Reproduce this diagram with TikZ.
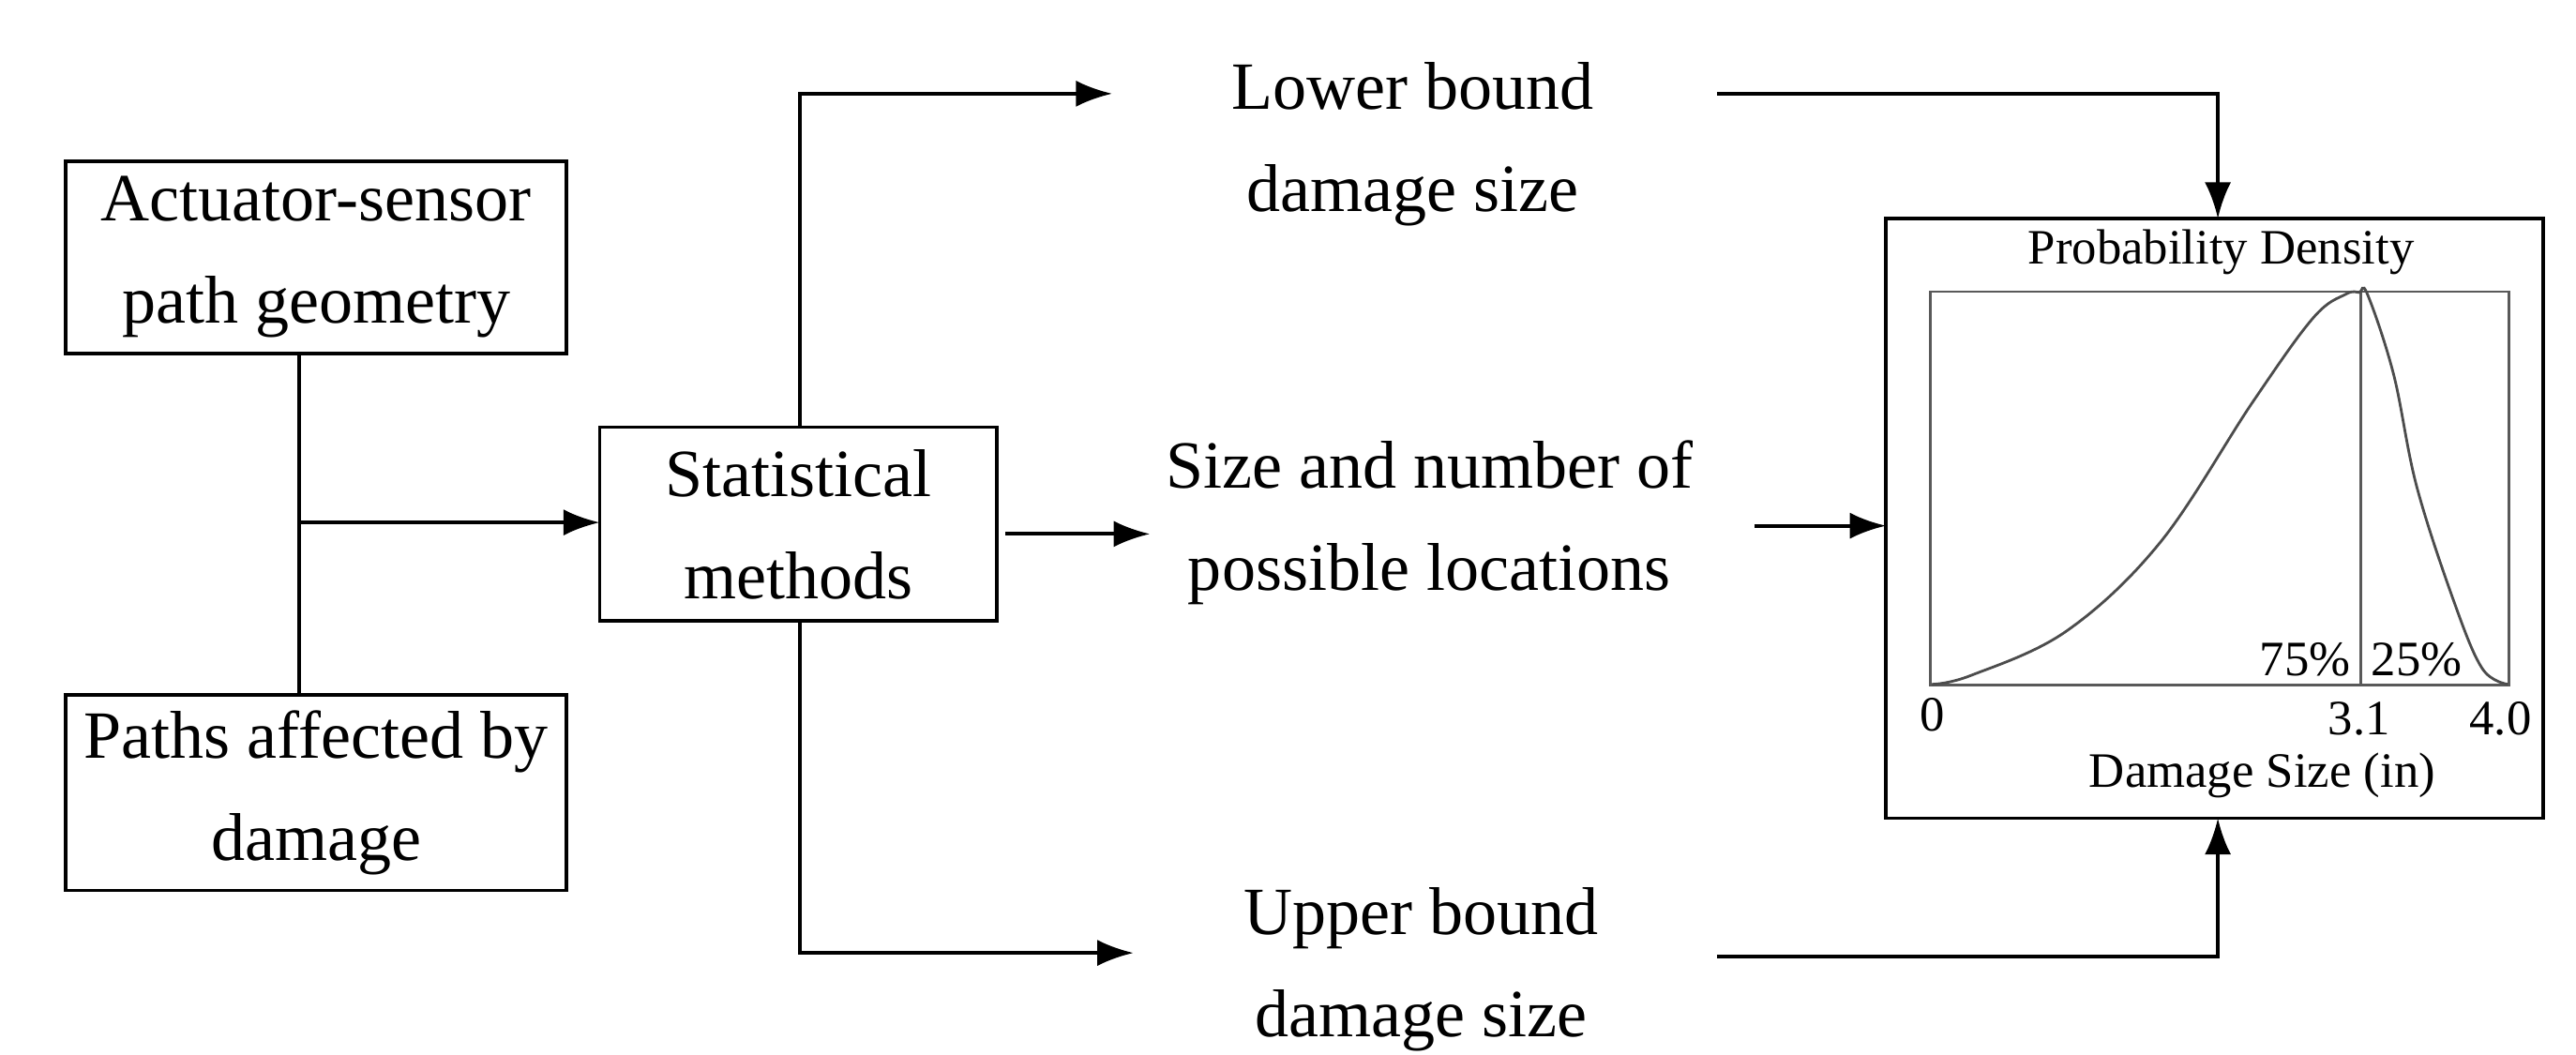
\documentclass[tikz,border=0pt]{standalone}
\usepackage{fontspec}
\setmainfont{Liberation Serif}
\usetikzlibrary{arrows.meta}
\begin{document}
\begin{tikzpicture}[x=0.01752cm,y=-0.01752cm,
  txt/.style={inner sep=0pt,align=center,font=\fontsize{20.5}{31}\selectfont},
  small/.style={inner sep=0pt,font=\fontsize{15}{18}\selectfont},
  arr/.style={line width=1.1pt,-{Latex[length=11pt,width=8pt]}},
  ln/.style={line width=1.1pt},
  pl/.style={draw=black!65,line width=0.8pt}]
\useasboundingbox (0,0) rectangle (1568,642);
\draw[ln] (40,98) rectangle (345,215);
\node[txt] (at) at (192.5,156.5) {Actuator-sensor\\path geometry};
\draw[ln] (40,423) rectangle (345,542);
\node[txt] (bt) at (192.5,482.5) {Paths affected by\\damage};
\coordinate (a1) at (182,215); \coordinate (b1) at (182,423); \coordinate (j) at (182,318);
\draw[ln] (a1) -- (b1);
\draw[ln] (365,260) rectangle (607,378);
\node[txt] (s) at (486,319) {Statistical\\methods};
\coordinate (s1) at (365,318);
\draw[arr] (j) -- (s1);
\node[txt] (m) at (870,318) {Size and number of\\possible locations};
\coordinate (s2) at (612,325); \coordinate (m1) at (700,325);
\draw[arr] (s2) -- (m1);
\node[txt] (l) at (860,88) {Lower bound\\damage size};
\node[txt] (u) at (865,590) {Upper bound\\damage size};
\coordinate (st) at (487,260); \coordinate (sb) at (487,378);
\coordinate (lt) at (677,57); \coordinate (ub) at (690,580);
\draw[arr] (st) |- (lt);
\draw[arr] (sb) |- (ub);
\draw[ln] (1148,133) rectangle (1548,498);
\coordinate (r1) at (1045,57); \coordinate (rt) at (1350,133);
\coordinate (r2) at (1045,582); \coordinate (rb) at (1350,498);
\coordinate (r3) at (1068,320); \coordinate (rl) at (1148,320);
\draw[arr] (r1) -| (rt);
\draw[arr] (r2) -| (rb);
\draw[arr] (r3) -- (rl);
\node[small] (pd) at (1352,153.5) {Probability Density};
\draw[pl] (1175,177.5) rectangle (1527,417);
\draw[pl] (1437,177.5) -- (1437,417);
\draw[black!70,line width=0.8pt] plot[smooth,tension=0.6] coordinates {(1176,416.5) (1200,411) (1258,384) (1315,330) (1371,245) (1408,193.5) (1428,179) (1436,178) (1441,179) (1457,228) (1471,296) (1494,367) (1511,407) (1526.5,416.5)};
\node[small,anchor=base east] (p75) at (1431,411) {75\%};
\node[small,anchor=base west] (p25) at (1443,411) {25\%};
\node[small,anchor=base] (x0) at (1176,445) {0};
\node[small,anchor=base] (x31) at (1436,447) {3.1};
\node[small,anchor=base] (x40) at (1522,447) {4.0};
\node[small] (xl) at (1377,472) {Damage Size (in)};
\end{tikzpicture}
\end{document}
